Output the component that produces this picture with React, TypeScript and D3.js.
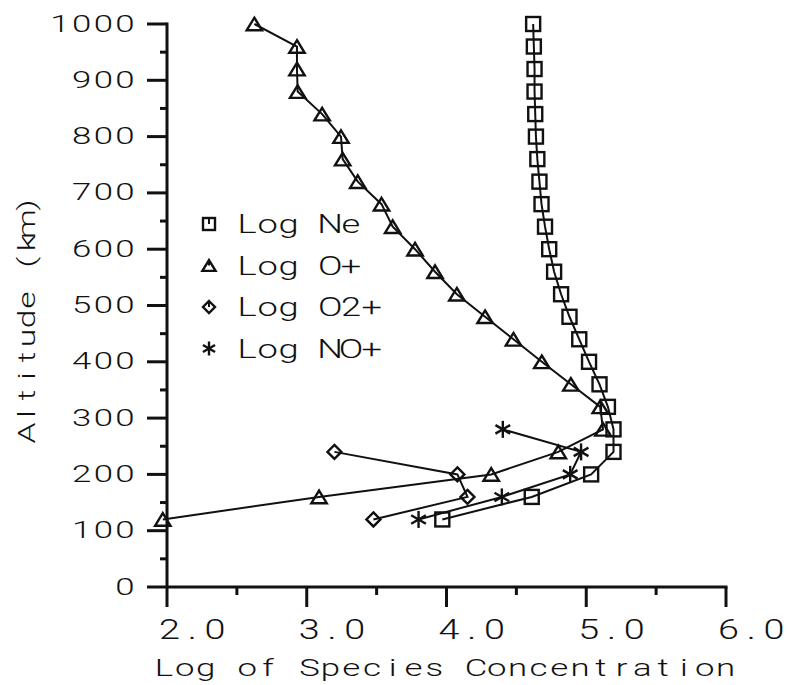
import React from "react";
import * as d3 from "d3";

const altNeO = [1000, 960, 920, 880, 840, 800, 760, 720, 680, 640, 600, 560, 520, 480, 440, 400, 360, 320, 280, 240, 200, 160, 120];
const logNe = [4.62, 4.625, 4.63, 4.63, 4.635, 4.64, 4.65, 4.665, 4.68, 4.705, 4.735, 4.77, 4.82, 4.88, 4.95, 5.02, 5.095, 5.155, 5.195, 5.195, 5.035, 4.61, 3.97];
const logOPlus = [2.625, 2.93, 2.93, 2.935, 3.11, 3.245, 3.257, 3.365, 3.535, 3.615, 3.775, 3.918, 4.074, 4.276, 4.479, 4.682, 4.89, 5.1, 5.12, 4.8, 4.32, 3.088, 1.97];
const altO2 = [240, 200, 160, 120];
const logO2Plus = [3.198, 4.078, 4.15, 3.477];
const altNO = [280, 240, 200, 160, 120];
const logNOPlus = [4.403, 4.963, 4.885, 4.396, 3.8];

const yTicks = [0, 100, 200, 300, 400, 500, 600, 700, 800, 900, 1000];
const yMinor = [50, 150, 250, 350, 450, 550, 650, 750, 850, 950];
const xTicks = [2, 3, 4, 5, 6];
const xTickLabels = ["2.0", "3.0", "4.0", "5.0", "6.0"];
const xMinor = [2.5, 3.5, 4.5, 5.5];
const legendLabels = ["Log Ne", "Log O+", "Log O2+", "Log NO+"];
const markerKinds = ["square", "triangle", "diamond", "star"];

const FONT = "Roboto, 'Liberation Sans', sans-serif";

// Monospaced-cell text: each char centred in a cell of width `pitch`, glyphs widened by sx.
function MonoText({ text, cx0, y, pitch, sx, fontSize }: { text: string; cx0: number; y: number; pitch: number; sx: number; fontSize: number }) {
  const chars = text.split("");
  return (
    <g transform={`translate(${cx0},${y}) scale(${sx},1)`}>
      <text fontFamily={FONT} fontWeight={300} fontSize={fontSize} fill="#111" textAnchor="middle" style={{ whiteSpace: "pre" }}>
        {chars.map((c, i) => (
          <tspan key={i} x={(i * pitch) / sx} y={0}>
            {c}
          </tspan>
        ))}
      </text>
    </g>
  );
}

function Marker({ kind, x, y, s, legend }: { kind: string; x: number; y: number; s: number; legend?: boolean }) {
  const sw = 2.4;
  const h = s / 2;
  if (kind === "square") {
    return (
      <g>
        <rect x={x - h} y={y - h} width={s} height={s} fill="none" stroke="#111" strokeWidth={sw} />
        {legend && <line x1={x} y1={y - h} x2={x} y2={y} stroke="#111" strokeWidth={2} />}
      </g>
    );
  }
  if (kind === "triangle") {
    const w = s * 1.1;
    const th = s * 0.9;
    return (
      <g>
        <path d={`M${x},${y - th / 2}L${x + w / 2},${y + th / 2}L${x - w / 2},${y + th / 2}Z`} fill="none" stroke="#111" strokeWidth={sw} />
        {legend && <line x1={x} y1={y - th / 2} x2={x} y2={y} stroke="#111" strokeWidth={2} />}
      </g>
    );
  }
  if (kind === "diamond") {
    return (
      <g>
        <path d={`M${x},${y - h}L${x + h},${y}L${x},${y + h}L${x - h},${y}Z`} fill="none" stroke="#111" strokeWidth={sw} />
        {legend && <line x1={x} y1={y - h} x2={x} y2={y} stroke="#111" strokeWidth={2} />}
      </g>
    );
  }
  const r = h;
  const c = Math.cos(Math.PI / 6) * r;
  const sn = Math.sin(Math.PI / 6) * r;
  return (
    <g stroke="#111" strokeWidth={2.4}>
      <line x1={x} y1={y - r} x2={x} y2={y + r} />
      <line x1={x - c} y1={y - sn} x2={x + c} y2={y + sn} />
      <line x1={x - c} y1={y + sn} x2={x + c} y2={y - sn} />
    </g>
  );
}

export default function App() {
  const x = d3.scaleLinear().domain([2, 6]).range([167, 726]);
  const y = d3.scaleLinear().domain([0, 1000]).range([587, 24]);

  const series = [
    { alt: altNeO, vals: logNe, kind: "square", size: 14 },
    { alt: altNeO, vals: logOPlus, kind: "triangle", size: 14 },
    { alt: altO2, vals: logO2Plus, kind: "diamond", size: 14 },
    { alt: altNO, vals: logNOPlus, kind: "star", size: 17 },
  ];

  const line = d3
    .line<[number, number]>()
    .x((d) => x(d[0]))
    .y((d) => y(d[1]));

  const title = "Altitude (km)";
  const yPitch = 19;

  return (
    <svg width={788} height={685} style={{ position: "absolute", left: 0, top: 0, background: "#fff" }}>
      <rect width={788} height={685} fill="#fff" />
      {/* axes */}
      <line x1={167} y1={y(1000) - 1.5} x2={167} y2={y(0)} stroke="#111" strokeWidth={3} />
      <line x1={x(2)} y1={y(0)} x2={x(6) + 1.5} y2={y(0)} stroke="#111" strokeWidth={3} />
      {yTicks.map((t) => (
        <line key={"yt" + t} x1={147} x2={167} y1={y(t)} y2={y(t)} stroke="#111" strokeWidth={3} />
      ))}
      {yMinor.map((t) => (
        <line key={"ym" + t} x1={160} x2={167} y1={y(t)} y2={y(t)} stroke="#111" strokeWidth={3} />
      ))}
      {xTicks.map((t) => (
        <line key={"xt" + t} x1={x(t)} x2={x(t)} y1={y(0)} y2={y(0) + 20} stroke="#111" strokeWidth={3} />
      ))}
      {xMinor.map((t) => (
        <line key={"xm" + t} x1={x(t)} x2={x(t)} y1={y(0)} y2={y(0) + 8} stroke="#111" strokeWidth={3} />
      ))}
      {yTicks.map((t) => {
        const s = String(t);
        return <MonoText key={"yl" + t} text={s} cx0={125 - (s.length - 1) * 21.7} y={y(t) + 7.5} pitch={21.7} sx={1.45} fontSize={24} />;
      })}
      {xTicks.map((t, i) => (
        <MonoText key={"xl" + t} text={xTickLabels[i]} cx0={x(t) + 2.5} y={638.5} pitch={22.75} sx={1.4} fontSize={27} />
      ))}
      <MonoText text="Log of Species Concentration" cx0={164} y={675.5} pitch={20.8} sx={1.45} fontSize={24} />
      <g transform="translate(35,319) rotate(-90)">
        <MonoText text={title} cx0={-((title.length - 1) / 2) * yPitch} y={0} pitch={yPitch} sx={1.4} fontSize={24} />
      </g>

      {/* series */}
      {series.map((s, si) => {
        const pts: [number, number][] = s.vals.map((v, i) => [v, s.alt[i]]);
        return (
          <g key={"s" + si}>
            <path d={line(pts) || ""} fill="none" stroke="#111" strokeWidth={2} />
            {pts.map((p, i) => (
              <Marker key={i} kind={s.kind} x={x(p[0])} y={y(p[1])} s={s.size} />
            ))}
          </g>
        );
      })}

      {/* legend */}
      {legendLabels.map((lab, i) => {
        const base = 233 + i * 41.5;
        return (
          <g key={"lg" + i}>
            <Marker kind={markerKinds[i]} x={209} y={base - 9} s={i === 3 ? 14 : 12} legend />
            <MonoText text={lab} cx0={247} y={base} pitch={20.8} sx={1.45} fontSize={25} />
          </g>
        );
      })}
    </svg>
  );
}
